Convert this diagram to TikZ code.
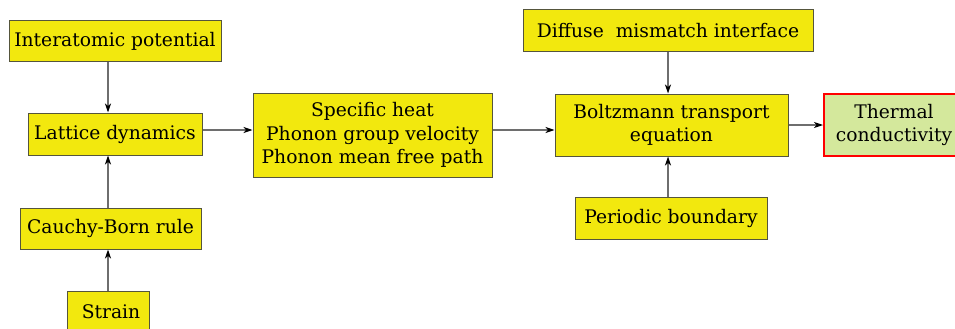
\documentclass[tikz,border=0pt]{standalone}
\usepackage{fontspec}
\setmainfont{DejaVu Serif}
\usetikzlibrary{arrows.meta}
\definecolor{boxyellow}{RGB}{242,232,14}
\definecolor{boxgreen}{RGB}{212,232,156}
\definecolor{boxedge}{RGB}{85,85,60}
\definecolor{linkgray}{RGB}{110,110,110}
\tikzset{
  block/.style={draw=boxedge, line width=1pt, fill=boxyellow, inner sep=0pt,
    align=center, font=\fontsize{18.7}{23.5}\selectfont},
  result/.style={block, draw=red, line width=2pt, fill=boxgreen},
  link/.style={draw=linkgray, line width=1.2pt, -{Stealth[black,length=9pt,width=6pt,inset=2.5pt]}}
}
\begin{document}
\begin{tikzpicture}[x=1pt,y=-1pt]
  \useasboundingbox (0,0) rectangle (955,329);

  % left column
  \node[block, minimum width=212, minimum height=41] (ipot) at (115,41.5) {Interatomic potential};
  \node[block, minimum width=174, minimum height=42] (latt) at (115,134) {Lattice dynamics};
  \node[block, minimum width=181, minimum height=41] (cbr) at (110.5,228.5) {Cauchy-Born rule};
  \node[block, minimum width=82, minimum height=41] (strain) at (108,311.5) {~Strain};

  % phonon properties
  \node[block, minimum width=239, minimum height=84] (phon) at (372.5,135)
    {Specific heat\\Phonon group velocity\\Phonon mean free path};

  % right column
  \node[block, minimum width=290, minimum height=42] (dmm) at (668,31) {Diffuse~ mismatch interface};
  \node[block, minimum width=233, minimum height=62] (bte) at (671.5,125) {Boltzmann transport\\equation};
  \node[block, minimum width=192, minimum height=42] (pbc) at (671,218) {Periodic boundary};
  \node[result, minimum width=140, minimum height=62] (tc) at (894,125) {Thermal\\conductivity};

  \coordinate (colL) at (108,0);
  \coordinate (colR) at (668,0);
  \coordinate (rowA) at (0,130);

  % connectors
  \draw[link] (ipot.south -| colL) -- (latt.north -| colL);
  \draw[link] (cbr.north -| colL) -- (latt.south -| colL);
  \draw[link] (strain.north -| colL) -- (cbr.south -| colL);
  \draw[link] (latt.east |- rowA) -- (phon.west |- rowA);
  \draw[link] (phon.east |- rowA) -- (bte.west |- rowA);
  \draw[link] (dmm.south -| colR) -- (bte.north -| colR);
  \draw[link] (pbc.north -| colR) -- (bte.south -| colR);
  \draw[link] (bte) -- (tc);
\end{tikzpicture}
\end{document}
